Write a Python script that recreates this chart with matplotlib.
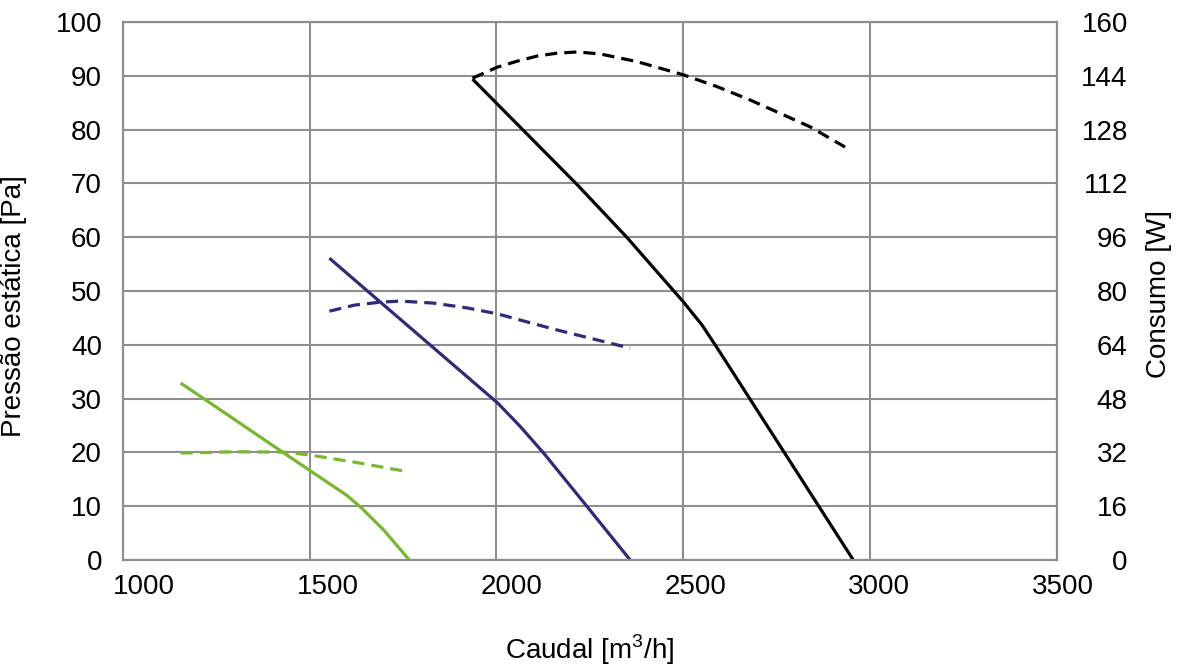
import numpy as np
import matplotlib
matplotlib.use("Agg")
import matplotlib.pyplot as plt
from matplotlib.transforms import ScaledTranslation

plt.rcParams['font.family'] = ['Liberation Sans', 'DejaVu Sans']
plt.rcParams['mathtext.fontset'] = 'custom'
plt.rcParams['mathtext.rm'] = 'Liberation Sans'

# pressao estatica (eixo esquerdo) - linhas continuas
green_x = [1155, 1431, 1600, 1640, 1698, 1767]
green_p = [32.9, 19.9, 12.0, 9.6, 5.6, 0]
blue_x = [1553, 1690, 2003, 2064, 2126, 2243, 2358]
blue_p = [56.1, 47.9, 29.2, 24.8, 19.9, 9.9, 0]
black_x = [1936, 2217, 2350, 2500, 2550, 2590, 2955]
black_p = [89.4, 69.7, 59.9, 48.0, 43.7, 39.5, 0]

# consumo (eixo direito) - linhas tracejadas
green_cx = [1155, 1300, 1431, 1503, 1636, 1765]
green_w = [31.8, 32.2, 32.1, 31.2, 28.8, 26.2]
blue_cx = [1553, 1620, 1690, 1743, 1832, 1920, 2003, 2152, 2358]
blue_w = [74.0, 75.8, 76.7, 77.0, 76.4, 75.0, 73.2, 68.7, 63.0]
black_cx = [1936, 2003, 2060, 2110, 2160, 2217, 2278, 2377, 2500, 2590, 2679, 2760, 2840, 2933]
black_w = [143.3, 146.6, 148.5, 149.9, 150.7, 151.1, 150.5, 148.2, 144.3, 140.8, 136.8, 132.8, 128.8, 122.8]

xticks = [1000, 1500, 2000, 2500, 3000, 3500]
yticks_l = list(range(0, 101, 10))
yticks_r = list(range(0, 161, 16))

c_green = '#78b72f'
c_blue = '#2e2a7c'
c_black = '#000000'
c_grid = '#8e8e8e'

fig = plt.figure(figsize=(11.77, 6.67), dpi=100)
ax = fig.add_axes([0.1043, 0.1604, 0.7937, 0.8066])
ax2 = ax.twinx()

lw = 2.3
for x, y, c in [(green_x, green_p, c_green), (blue_x, blue_p, c_blue), (black_x, black_p, c_black)]:
    ax.plot(x, y, color=c, lw=lw, solid_capstyle='butt', solid_joinstyle='round')

for x, y, c in [(green_cx, green_w, c_green), (blue_cx, blue_w, c_blue), (black_cx, black_w, c_black)]:
    ax2.plot(x, y, color=c, lw=lw, dashes=(3.8, 2.2), dash_joinstyle='round')

ax.set_xlim(1000, 3500)
ax.set_ylim(0, 100)
ax2.set_ylim(0, 160)
ax.set_xticks(xticks)
ax.set_yticks(yticks_l)
ax2.set_yticks(yticks_r)

ax.grid(True, color=c_grid, lw=1.5)
ax.set_axisbelow(True)
for a in (ax, ax2):
    for s in a.spines.values():
        s.set_color(c_grid)
        s.set_linewidth(1.5)

ax.tick_params(axis='both', length=0, labelsize=20)
ax.tick_params(axis='y', pad=15)
ax.tick_params(axis='x', pad=10)
ax2.tick_params(axis='y', length=0, labelsize=20, pad=51)
for lbl in ax2.get_yticklabels():
    lbl.set_horizontalalignment('right')

# rotulos do eixo x ligeiramente deslocados como no original
offs = [21, 18, 15, 12, 9, 6]
for lbl, dx in zip(ax.get_xticklabels(), offs):
    lbl.set_transform(lbl.get_transform() + ScaledTranslation(dx / 100, 0, fig.dpi_scale_trans))

ax.set_xlabel('Caudal [m$^3$/h]', fontsize=20)
ax.set_ylabel('Pressão estática [Pa]', fontsize=20)
ax2.set_ylabel('Consumo [W]', fontsize=20)
ax.xaxis.set_label_coords(0.5, -0.134)
ax.yaxis.set_label_coords(-0.1024, 0.472)
ax2.yaxis.set_label_coords(1.0955, 0.494)

fig.savefig('out.png', dpi=100)
